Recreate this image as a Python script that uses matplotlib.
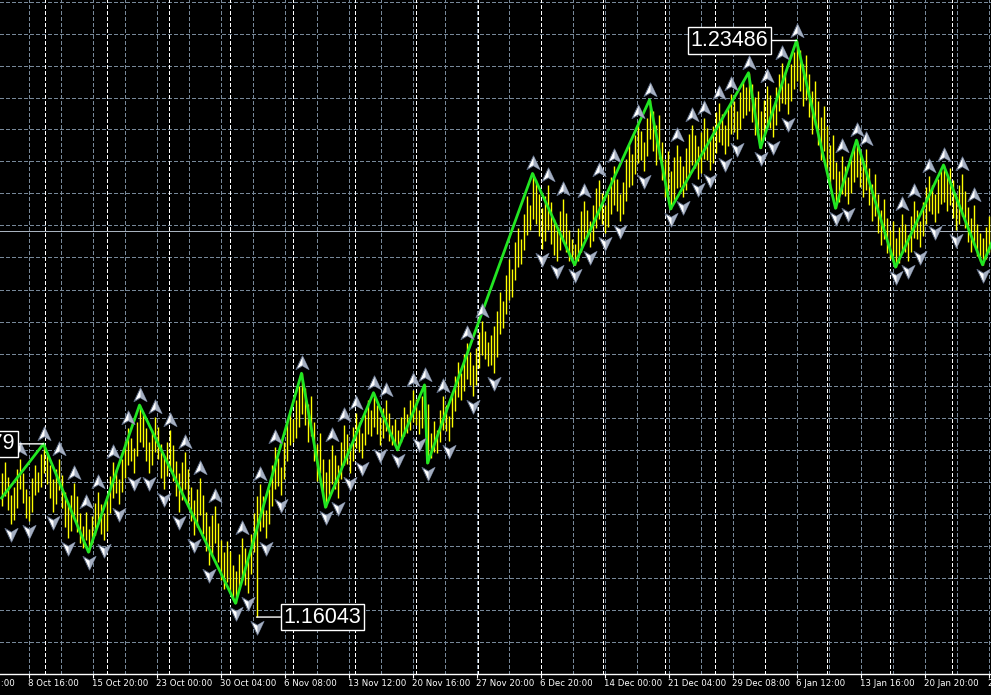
import numpy as np
import matplotlib
matplotlib.use("Agg")
import matplotlib.pyplot as plt
import matplotlib.transforms as mtransforms
from matplotlib.path import Path

# H4 bars, high / low in pips (price * 10000)
bar_high = [
    11790, 11804, 11785, 11762, 11772, 11795, 11808, 11790, 11770, 11760,    # 0-9
    11784, 11800, 11792, 11815, 11827.9, 11816, 11800, 11782, 11795, 11808,  # 10-19
    11788, 11766, 11750, 11762, 11778, 11760, 11738, 11722, 11740, 11718,    # 20-29
    11735, 11752, 11766, 11750, 11738, 11760, 11786, 11805, 11796, 11782,    # 30-39
    11808, 11832, 11848, 11836, 11822, 11856, 11878, 11866, 11848, 11830,    # 40-49
    11846, 11862, 11850, 11828, 11812, 11830, 11846, 11826, 11806, 11790,    # 50-59
    11804, 11818, 11796, 11772, 11756, 11770, 11784, 11762, 11740, 11722,    # 60-69
    11736, 11748, 11726, 11704, 11688, 11702, 11690, 11672, 11664, 11686,    # 70-79
    11706, 11694, 11678, 11712, 11738, 11760, 11776, 11760, 11742, 11770,    # 80-89
    11800, 11824, 11810, 11798, 11830, 11856, 11872, 11860, 11884, 11902,    # 90-99
    11919, 11900, 11880, 11890, 11856, 11828, 11842, 11808, 11792, 11808,    # 100-109
    11826, 11814, 11800, 11830, 11852, 11840, 11826, 11850, 11868, 11856,    # 110-119
    11842, 11866, 11884, 11872, 11894, 11878, 11862, 11874, 11884, 11868,    # 120-129
    11852, 11860, 11846, 11862, 11876, 11866, 11884, 11898, 11886, 11872,    # 130-139
    11890, 11904, 11880, 11842, 11858, 11846, 11872, 11890, 11878, 11864,    # 140-149
    11892, 11916, 11934, 11920, 11944, 11958, 11946, 11930, 11952, 11972,    # 150-159
    11986, 11974, 11960, 11968, 11980, 12000, 12024, 12012, 12046, 12066,    # 160-169
    12054, 12088, 12106, 12092, 12124, 12148, 12136, 12177, 12168, 12150,    # 170-179
    12132, 12148, 12162, 12140, 12118, 12106, 12128, 12144, 12126, 12104,    # 180-189
    12092, 12086, 12106, 12128, 12142, 12130, 12116, 12136, 12158, 12168,    # 190-199
    12152, 12136, 12150, 12172, 12186, 12170, 12150, 12166, 12196, 12214,    # 200-209
    12202, 12226, 12244, 12232, 12218, 12248, 12272, 12258, 12240, 12252,    # 210-219
    12218, 12196, 12206, 12180, 12198, 12214, 12200, 12186, 12210, 12228,    # 220-229
    12240, 12226, 12212, 12230, 12248, 12236, 12220, 12238, 12256, 12268,    # 230-239
    12254, 12240, 12262, 12280, 12270, 12258, 12282, 12296, 12288, 12307,    # 240-249
    12292, 12276, 12284, 12258, 12272, 12290, 12278, 12264, 12288, 12306,    # 250-259
    12320, 12308, 12294, 12318, 12334, 12348.6, 12336, 12318, 12330, 12306,  # 260-269
    12284, 12296, 12270, 12250, 12264, 12238, 12214, 12226, 12192, 12180,    # 270-279
    12200, 12186, 12172, 12198, 12212, 12220, 12206, 12192, 12208, 12184,    # 280-289
    12164, 12176, 12150, 12130, 12144, 12120, 12104, 12116, 12094, 12108,    # 290-299
    12124, 12112, 12098, 12122, 12142, 12130, 12116, 12140, 12160, 12174,    # 300-309
    12162, 12150, 12170, 12182, 12188, 12174, 12184, 12168, 12150, 12162,    # 310-319
    12176, 12154, 12134, 12120, 12136, 12112, 12100, 12094, 12108, 12122,    # 320-329
    12110,                                                                   # 330
]
bar_low = [
    11748, 11760, 11742, 11725, 11730, 11745, 11770, 11752, 11732, 11728,
    11740, 11762, 11766, 11772, 11790, 11776, 11758, 11740, 11750, 11768,
    11745, 11720, 11706, 11716, 11732, 11714, 11700, 11694, 11704, 11688,
    11698, 11710, 11724, 11712, 11704, 11716, 11738, 11758, 11764, 11750,
    11766, 11784, 11800, 11806, 11790, 11812, 11830, 11824, 11806, 11790,
    11800, 11818, 11808, 11784, 11770, 11786, 11796, 11780, 11760, 11740,
    11756, 11770, 11748, 11728, 11710, 11720, 11736, 11712, 11690, 11672,
    11686, 11700, 11676, 11652, 11640, 11650, 11636, 11628, 11622, 11640,
    11652, 11646, 11636, 11660, 11688, 11604.3, 11716, 11720, 11706, 11724,
    11748, 11770, 11774, 11762, 11782, 11806, 11826, 11830, 11836, 11850,
    11866, 11852, 11830, 11838, 11806, 11780, 11790, 11760, 11746, 11760,
    11776, 11770, 11758, 11782, 11800, 11802, 11790, 11806, 11822, 11818,
    11810, 11826, 11840, 11838, 11850, 11840, 11826, 11836, 11844, 11832,
    11826, 11828, 11820, 11830, 11838, 11842, 11846, 11856, 11852, 11840,
    11848, 11862, 11803, 11810, 11818, 11816, 11830, 11846, 11844, 11832,
    11850, 11870, 11888, 11884, 11896, 11912, 11904, 11890, 11904, 11926,
    11942, 11938, 11928, 11930, 11920, 11940, 11970, 11978, 11996, 12014,
    12018, 12040, 12056, 12060, 12078, 12098, 12104, 12118, 12112, 12096,
    12080, 12090, 12104, 12086, 12072, 12064, 12078, 12090, 12076, 12064,
    12066, 12059, 12064, 12076, 12092, 12096, 12082, 12090, 12106, 12118,
    12112, 12100, 12108, 12124, 12136, 12128, 12116, 12124, 12142, 12160,
    12162, 12176, 12190, 12194, 12180, 12200, 12222, 12206, 12188, 12196,
    12168, 12146, 12154, 12131, 12142, 12158, 12160, 12146, 12156, 12172,
    12188, 12184, 12170, 12178, 12196, 12194, 12182, 12190, 12204, 12218,
    12214, 12202, 12212, 12228, 12230, 12222, 12234, 12248, 12252, 12258,
    12244, 12226, 12232, 12210, 12224, 12240, 12236, 12224, 12240, 12258,
    12268, 12266, 12254, 12270, 12286, 12296, 12284, 12264, 12272, 12250,
    12228, 12240, 12214, 12194, 12206, 12180, 12160, 12170, 12132, 12140,
    12150, 12148, 12138, 12152, 12166, 12172, 12160, 12146, 12156, 12136,
    12116, 12122, 12100, 12084, 12092, 12074, 12066, 12070, 12056, 12062,
    12074, 12076, 12064, 12076, 12094, 12092, 12082, 12096, 12112, 12128,
    12124, 12114, 12126, 12138, 12140, 12128, 12136, 12120, 12104, 12112,
    12122, 12106, 12088, 12076, 12084, 12070, 12064, 12059, 12066, 12076,
    12080,
]

# zigzag swing points (bar index, pips)
zz_bar = [0, 14, 29, 46, 78, 100, 108, 124, 132, 141, 142, 177, 191,
          216, 223, 249, 253, 265, 278, 285, 298, 314, 327, 330]
zz_pip = [11758, 11827.9, 11688, 11878, 11622, 11919, 11746, 11894, 11820,
          11904, 11803, 12177, 12059, 12272, 12131, 12307, 12210, 12348.6,
          12132, 12220, 12056, 12188, 12059, 12087]

date_labels = ['1 Oct 12:00', '8 Oct 16:00', '15 Oct 20:00', '23 Oct 00:00',
               '30 Oct 04:00', '6 Nov 08:00', '13 Nov 12:00', '20 Nov 16:00',
               '27 Nov 20:00', '6 Dec 20:00', '14 Dec 00:00', '21 Dec 04:00',
               '29 Dec 08:00', '6 Jan 12:00', '13 Jan 16:00', '20 Jan 20:00',
               '28 Jan 00:00']
# bar positions of the weekly period separators
week_start = [14.4, 35.2, 55.8, 76.3, 97.1, 117.7, 138.0, 158.9, 179.9,
              200.6, 221.1, 237.8, 254.4, 275.2, 296.0, 316.7]
bid_price = 1.21027
# bars whose extreme gets a price label
mark_bars = [14, 265, 85]
mark_side = ['high', 'high', 'low']

high = np.array(bar_high) / 1e4
low = np.array(bar_low) / 1e4
n = len(high)
xs = np.arange(n)

W, H = 991, 695
fig = plt.figure(figsize=(W / 100, H / 100), dpi=100, facecolor='black')
ax = fig.add_axes([0, 21 / H, 1, 674 / H], facecolor='black')
ymin, ymax = 1.15308, 1.24009
xmin = -0.5                        # bar centres land on pixel centres
ax.set_xlim(xmin, xmin + W / 3)
ax.set_ylim(ymin, ymax)
ppx = (ymax - ymin) / 674          # price per pixel


def px2bar(p):
    return (p + 0.5) / 3 + xmin


# grid
grid_c = '#778899'
dash = (0, (3.5, 2.5))
for k in range(31):
    ax.axvline(px2bar(28 + 32 * k), color=grid_c, lw=0.72, ls=dash,
               antialiased=False, zorder=1)
for k in range(22):
    ax.axhline(ymax - (1.5 + 32 * k) * ppx, color=grid_c, lw=0.72, ls=dash,
               antialiased=False, zorder=1)
for w in week_start:
    ax.axvline(w, color='white', lw=0.72, ls=dash, antialiased=False, zorder=1.1)
ax.axhline(bid_price, color='#a8b2be', lw=0.72, antialiased=False, zorder=1.2)

# bars
ax.vlines(xs, low, high, colors='#ffff00', lw=1.0, zorder=2)

# zigzag
ax.plot(zz_bar, np.array(zz_pip) / 1e4, color='#22e622', lw=2.0, zorder=3)

# fractals
up_idx = [i for i in range(2, n - 2)
          if high[i] > max(high[i - 2], high[i - 1]) and high[i] >= max(high[i + 1], high[i + 2])]
dn_idx = [i for i in range(2, n - 2)
          if low[i] < min(low[i - 2], low[i - 1]) and low[i] <= min(low[i + 1], low[i + 2])]

cod = [Path.MOVETO, Path.LINETO, Path.LINETO, Path.LINETO, Path.CLOSEPOLY]
cod3 = [Path.MOVETO, Path.LINETO, Path.LINETO, Path.CLOSEPOLY]
up_full = Path([(0, 1), (0.85, -0.8), (0, -0.3), (-0.85, -0.8), (0, 1)], cod)
up_half = Path([(0, 1), (0.85, -0.8), (0, -0.3), (0, 1)], cod3)
dn_full = Path([(0, -1), (0.85, 0.8), (0, 0.3), (-0.85, 0.8), (0, -1)], cod)
dn_half = Path([(0, -1), (0.85, 0.8), (0, 0.3), (0, -1)], cod3)

tr_up = mtransforms.offset_copy(ax.transData, fig=fig, x=0, y=10, units='dots')
tr_dn = mtransforms.offset_copy(ax.transData, fig=fig, x=0, y=-10, units='dots')
for idx, arr, full, half, tr in [(up_idx, high, up_full, up_half, tr_up),
                                 (dn_idx, low, dn_full, dn_half, tr_dn)]:
    ax.plot(idx, arr[idx], ls='none', marker=full, ms=11, mfc='white',
            mec='#5a6880', mew=0.7, transform=tr, zorder=4)
    ax.plot(idx, arr[idx], ls='none', marker=half, ms=11, mfc='#a4aec0',
            mec='none', transform=tr, zorder=4.1)

# extreme price labels
for b, side in zip(mark_bars, mark_side):
    p = high[b] if side == 'high' else low[b]
    dx = -67 if side == 'high' else 66
    ax.annotate(f'{p:.5f}', xy=(b, p), xytext=(dx, 0), textcoords='offset pixels',
                ha='center', va='center', color='white', fontsize=15.5,
                family='Liberation Sans',
                bbox=dict(boxstyle='square,pad=0.12', fc='black', ec='white', lw=1),
                arrowprops=dict(arrowstyle='-', color='white', lw=1,
                                shrinkA=0, shrinkB=0),
                annotation_clip=False, zorder=6)

# time axis
label_pos = [px2bar(28 + 64 * j) for j in range(-1, len(date_labels) - 1)]
ax.set_xticks([p for p in label_pos if p >= xmin])
ax.set_yticks([])
ax.tick_params(axis='x', colors='white', length=3, width=0.8, labelbottom=False)
for p, s in zip(label_pos, date_labels):
    ax.text(p - 0.3, -10 / 674, s, transform=ax.get_xaxis_transform(),
            ha='left', va='center', color='white', fontsize=6.2,
            family='DejaVu Sans', clip_on=False)
for sp in ['top', 'left', 'right']:
    ax.spines[sp].set_visible(False)
ax.spines['bottom'].set_color('white')
ax.spines['bottom'].set_linewidth(1)

fig.savefig('out.png', dpi=100, facecolor='black')
